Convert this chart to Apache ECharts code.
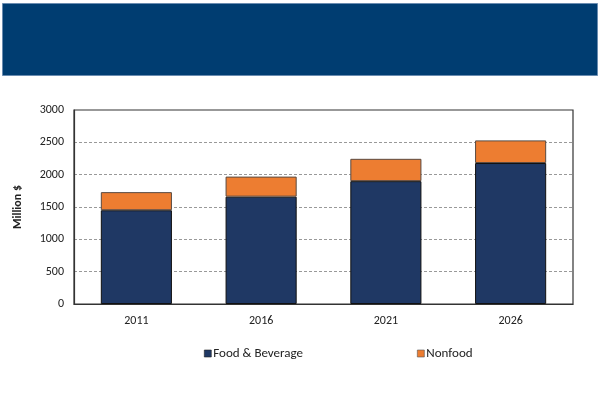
<!DOCTYPE html>
<html>
<head>
<meta charset="utf-8">
<script src="https://cdn.jsdelivr.net/npm/echarts@6/dist/echarts.min.js"></script>
<style>
html,body{margin:0;padding:0;background:#fff;}
#chart{width:600px;height:400px;}
</style>
</head>
<body>
<div id="chart"></div>
<script>
const categories = ['2011', '2016', '2021', '2026'];
const foodBeverage = [1450, 1660, 1900, 2180];
const nonfood = [280, 310, 345, 350];
const yTicks = [0, 500, 1000, 1500, 2000, 2500, 3000];

const chart = echarts.init(document.getElementById('chart'));
const font = 'Carlito, "Open Sans", "Liberation Sans", sans-serif';
chart.setOption({
  animation: false,
  textStyle: { fontFamily: font },
  graphic: [{
    type: 'rect',
    shape: { x: 2.5, y: 3.5, width: 595, height: 72 },
    style: { fill: '#003D71', stroke: '#6A8CB0', lineWidth: 1 }
  }],
  grid: {
    left: 74, right: 27, top: 110, bottom: 96,
    show: true, borderColor: '#333', borderWidth: 1.2, backgroundColor: 'transparent'
  },
  legend: {
    top: 342, left: 199, itemGap: 114,
    itemWidth: 7, itemHeight: 7, icon: 'rect',
    textStyle: { fontSize: 13, color: '#222', fontFamily: font, padding: [0, 0, 0, -3] },
    data: [
      { name: 'Food & Beverage', itemStyle: { borderColor: '#222', borderWidth: 0.6 } },
      { name: 'Nonfood', itemStyle: { borderColor: '#555', borderWidth: 0.6 } }
    ]
  },
  xAxis: {
    type: 'category', data: categories,
    axisLine: { lineStyle: { color: '#333', width: 1.2 } },
    axisTick: { show: false },
    axisLabel: { color: '#222', fontSize: 12, margin: 11, fontFamily: font }
  },
  yAxis: {
    type: 'value', min: 0, max: 3000, interval: 500,
    name: 'Million $', nameLocation: 'middle', nameGap: 50, nameRotate: 90,
    nameTextStyle: { fontSize: 12, fontWeight: 'bold', color: '#222', fontFamily: font },
    axisLine: { show: true, lineStyle: { color: '#333', width: 1.2 } },
    axisTick: { show: false },
    axisLabel: { color: '#222', fontSize: 12, margin: 10, fontFamily: font,
      formatter: v => yTicks.includes(v) ? String(v) : '' },
    splitLine: { show: true, lineStyle: { color: '#999', type: [3, 2], width: 1 } }
  },
  series: [
    {
      name: 'Food & Beverage', type: 'bar', stack: 'total', data: foodBeverage,
      barWidth: '57%',
      itemStyle: { color: '#1F3864', borderColor: '#111', borderWidth: 1 }
    },
    {
      name: 'Nonfood', type: 'bar', stack: 'total', data: nonfood,
      barWidth: '57%',
      itemStyle: { color: '#ED7D31', borderColor: '#5a4a40', borderWidth: 1 }
    }
  ]
});
</script>
</body>
</html>
